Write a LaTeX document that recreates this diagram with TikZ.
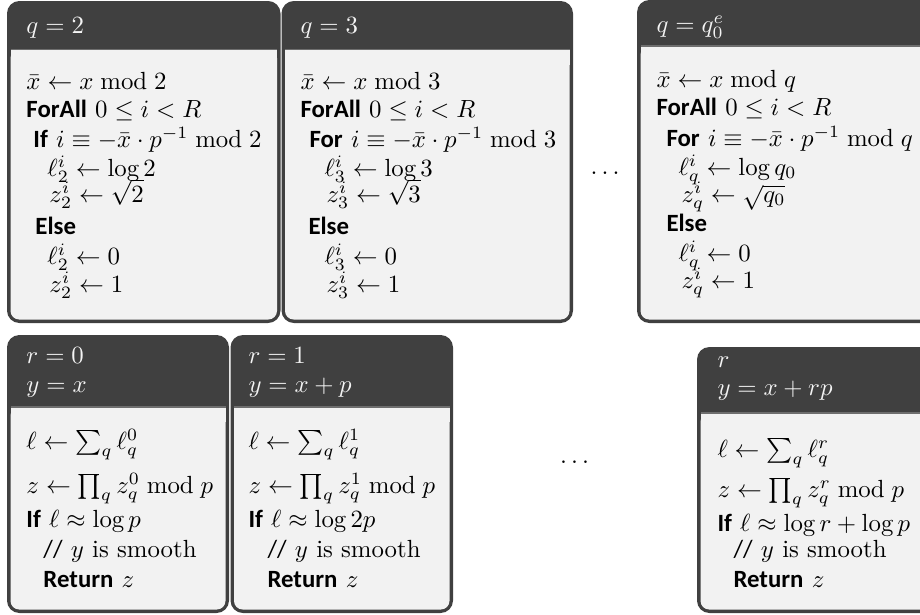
\documentclass[tikz,border=0pt]{standalone}
\usepackage{amsmath,amssymb}
\usepackage{fontspec}
\newfontfamily\kwfont{Carlito}
\definecolor{boxdark}{HTML}{404040}
\definecolor{boxlight}{HTML}{F2F2F2}
\definecolor{boxsep}{HTML}{6E6E6E}
\definecolor{headtext}{HTML}{F4F4F4}
\newcommand{\kw}[1]{{\kwfont\bfseries #1}}
\newcommand{\cmt}{{\kwfont //}}
\newcommand{\algbox}[5]{%
  \fill[boxdark, rounded corners=5pt] (#1,#2) rectangle (#3,#4);
  \fill[boxlight, rounded corners=3.5pt] (#1+3.5,#5) rectangle (#3-3.5,#4-3.5);
  \fill[boxlight] (#1+3.5,#5) rectangle (#3-3.5,#5+15);
  \draw[boxsep, line width=0.5pt] (#1+3.5,#5) -- (#3-3.5,#5);
}
\tikzset{
  algline/.style={anchor=base west, inner sep=0pt, font=\normalsize},
  headline/.style={algline, text=headtext},
  dotsnode/.style={anchor=base, inner sep=0pt}
}
\begin{document}
\begin{tikzpicture}[x=0.403pt, y=-0.403pt]
\useasboundingbox (0,0) rectangle (920,614);
\clip (0,0) rectangle (920,614);
% boxes
\algbox{7}{1}{280.5}{323}{49.5}
\algbox{281.5}{1}{573}{323}{49.5}
\algbox{637}{0}{960}{323}{46}
\algbox{7}{335}{229}{613}{407}
\algbox{230.5}{335}{453}{613}{407}
\algbox{697}{347}{960}{613}{413}
% box A
\node[headline] (a0) at (26,33) {$q = 2$};
\node[algline] (a1) at (26,89) {$\bar x \gets x \bmod 2$};
\node[algline] (a2) at (26,117) {\kw{ForAll} $0 \le i < R$};
\node[algline] (a3) at (33,147) {\kw{If} $i \equiv -\bar x \cdot p^{-1} \bmod 2$};
\node[algline] (a4) at (47,176) {$\ell_2^i \gets \log 2$};
\node[algline] (a5) at (49,202) {$z_2^i \gets \sqrt{2}$};
\node[algline] (a6) at (35,234) {\kw{Else}};
\node[algline] (a7) at (47,264) {$\ell_2^i \gets 0$};
\node[algline] (a8) at (49,292) {$z_2^i \gets 1$};
% box B
\node[headline] (b0) at (300,33) {$q = 3$};
\node[algline] (b1) at (300,89) {$\bar x \gets x \bmod 3$};
\node[algline] (b2) at (300,117) {\kw{ForAll} $0 \le i < R$};
\node[algline] (b3) at (309,147) {\kw{For} $i \equiv -\bar x \cdot p^{-1} \bmod 3$};
\node[algline] (b4) at (324,176) {$\ell_3^i \gets \log 3$};
\node[algline] (b5) at (326,202) {$z_3^i \gets \sqrt{3}$};
\node[algline] (b6) at (308,234) {\kw{Else}};
\node[algline] (b7) at (324,264) {$\ell_3^i \gets 0$};
\node[algline] (b8) at (326,292) {$z_3^i \gets 1$};
% box C
\node[headline] (c0) at (656,32) {$q = q_0^e$};
\node[algline] (c1) at (656,87) {$\bar x \gets x \bmod q$};
\node[algline] (c2) at (656,115) {\kw{ForAll} $0 \le i < R$};
\node[algline] (c3) at (666,146) {\kw{For} $i \equiv -\bar x \cdot p^{-1} \bmod q$};
\node[algline] (c4) at (678,175) {$\ell_q^i \gets \log q_0$};
\node[algline] (c5) at (681,202) {$z_q^i \gets \sqrt{q_0}$};
\node[algline] (c6) at (666,231) {\kw{Else}};
\node[algline] (c7) at (678,261) {$\ell_q^i \gets 0$};
\node[algline] (c8) at (681,288) {$z_q^i \gets 1$};
% box D
\node[headline] (d0) at (26,363) {$r = 0$};
\node[headline] (d1) at (26,392) {$y = x$};
\node[algline] (d2) at (26,449) {$\ell \gets \sum_q \ell_q^0$};
\node[algline] (d3) at (26,493) {$z \gets \prod_q z_q^0 \bmod p$};
\node[algline] (d4) at (26,527) {\kw{If} $\ell \approx \log p$};
\node[algline] (d5) at (43,557) {\cmt\ $y$ is smooth};
\node[algline] (d6) at (43,587) {\kw{Return} $z$};
% box E
\node[headline] (e0) at (248,363) {$r = 1$};
\node[headline] (e1) at (248,392) {$y = x + p$};
\node[algline] (e2) at (248,449) {$\ell \gets \sum_q \ell_q^1$};
\node[algline] (e3) at (248,493) {$z \gets \prod_q z_q^1 \bmod p$};
\node[algline] (e4) at (248,527) {\kw{If} $\ell \approx \log 2p$};
\node[algline] (e5) at (267,557) {\cmt\ $y$ is smooth};
\node[algline] (e6) at (267,587) {\kw{Return} $z$};
% box F
\node[headline] (f0) at (717,367) {$r$};
\node[headline] (f1) at (717,395) {$y = x + rp$};
\node[algline] (f2) at (717,457) {$\ell \gets \sum_q \ell_q^r$};
\node[algline] (f3) at (717,497) {$z \gets \prod_q z_q^r \bmod p$};
\node[algline] (f4) at (717,531) {\kw{If} $\ell \approx \log r + \log p$};
\node[algline] (f5) at (733,557) {\cmt\ $y$ is smooth};
\node[algline] (f6) at (733,587) {\kw{Return} $z$};
% dots
\node[dotsnode] (dtop) at (605,174) {$\ldots$};
\node[dotsnode] (dbot) at (574.5,463.5) {$\ldots$};
\end{tikzpicture}
\end{document}
